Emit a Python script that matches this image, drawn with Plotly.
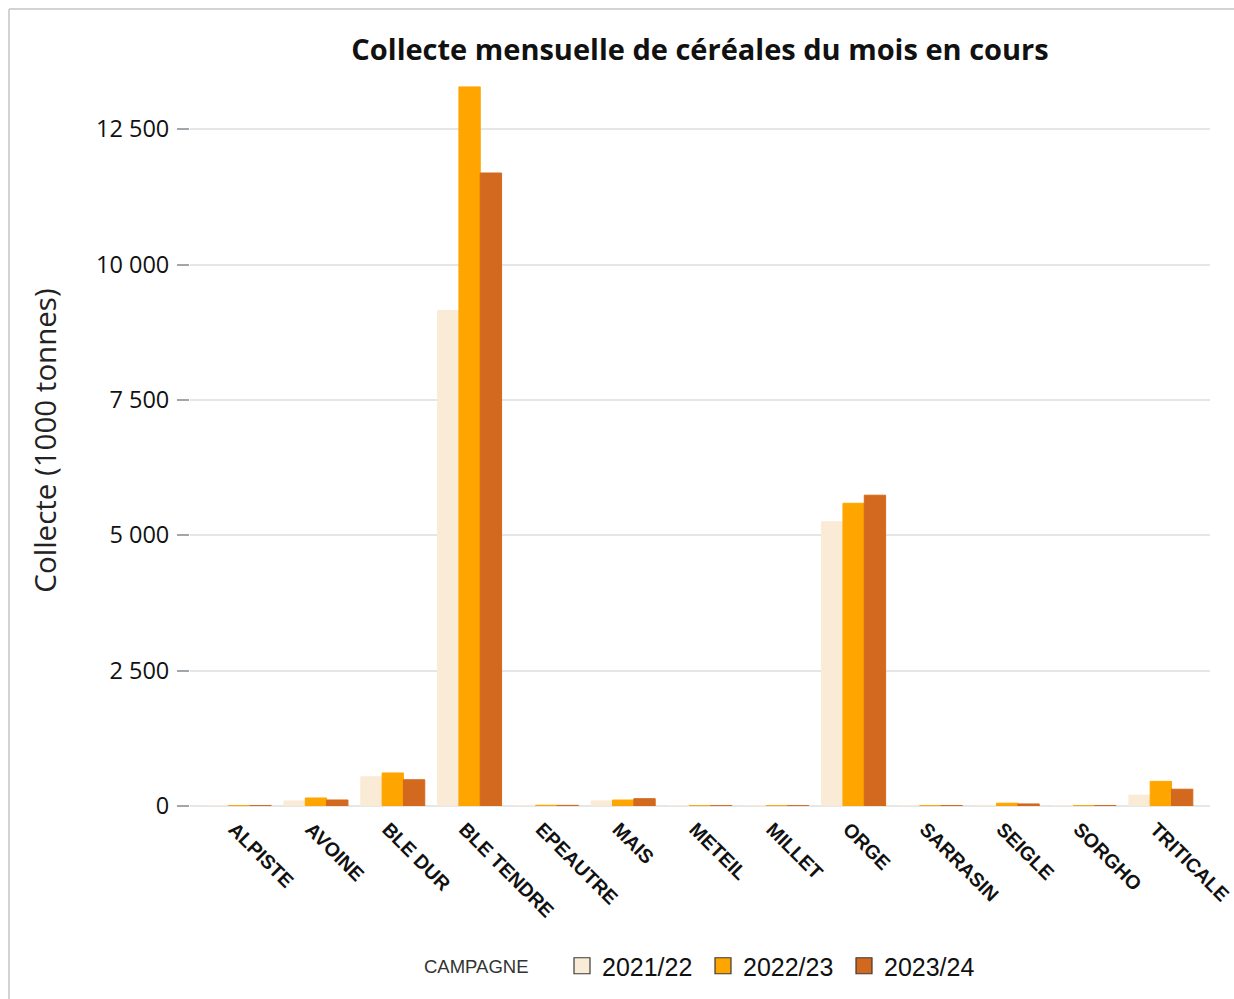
import plotly.graph_objects as go

# Cereal categories (x axis)
cereales = ["ALPISTE", "AVOINE", "BLE DUR", "BLE TENDRE", "EPEAUTRE", "MAIS",
            "METEIL", "MILLET", "ORGE", "SARRASIN", "SEIGLE", "SORGHO", "TRITICALE"]

# Monthly collection, thousand tonnes, per campaign
collecte_2021_22 = [3, 92, 540, 9150, 5, 95, 4, 3, 5250, 4, 12, 3, 200]
collecte_2022_23 = [8, 148, 610, 13280, 14, 110, 6, 6, 5590, 8, 52, 7, 455]
collecte_2023_24 = [8, 111, 485, 11690, 12, 135, 6, 6, 5740, 8, 38, 7, 310]

campagnes = ["2021/22", "2022/23", "2023/24"]
series = [collecte_2021_22, collecte_2022_23, collecte_2023_24]
couleurs = ["#FAEBD7", "#FFA500", "#D2691E"]

y_ticks = [0, 2500, 5000, 7500, 10000, 12500]

W, H = 1234, 999
L, R, T, B = 190, 24, 75, 193
pw, ph = W - L - R, H - T - B

fig = go.Figure()

for nom, vals, col in zip(campagnes, series, couleurs):
    fig.add_trace(go.Bar(
        x=cereales, y=vals, name=nom, showlegend=False,
        marker=dict(color=col, line=dict(width=1, color=col)),
    ))

# Legend entries: square swatches with dark outline
for nom, col in zip(campagnes, couleurs):
    fig.add_trace(go.Scatter(
        x=[None], y=[None], mode="markers", name=nom,
        marker=dict(symbol="square", size=19, color=col,
                    line=dict(width=1.2, color="#3a3a3a")),
    ))


def px_x(p):
    return (p - L) / pw


def px_y(p):
    return (H - B - p) / ph


# Light frame around the chart container (left and top edges)
frame = dict(color="#d3d3d3", width=2)
fig.add_shape(type="line", xref="paper", yref="paper",
              x0=px_x(9), x1=px_x(W + 5), y0=px_y(9), y1=px_y(9), line=frame)
fig.add_shape(type="line", xref="paper", yref="paper",
              x0=px_x(9), x1=px_x(9), y0=px_y(9), y1=px_y(H + 5), line=frame)

# Legend heading
fig.add_annotation(
    text="CAMPAGNE", xref="paper", yref="paper",
    x=px_x(422), y=px_y(966), xanchor="left", yanchor="middle",
    showarrow=False,
    font=dict(family="Liberation Sans", size=18.5, color="#333333"),
)

fig.update_layout(
    width=W, height=H,
    margin=dict(l=L, r=R, t=T, b=B, autoexpand=False),
    paper_bgcolor="white", plot_bgcolor="white",
    separators=", ",
    barmode="group", bargap=0.167, bargroupgap=0,
    title=dict(
        text="Collecte mensuelle de céréales du mois en cours",
        font=dict(family="Open Sans", size=29, color="#111111", weight="bold"),
        x=0.5, xref="paper", xanchor="center",
        y=1 - 50 / H, yanchor="middle",
    ),
    xaxis=dict(
        type="category", range=[-0.64, 12.64],
        tickangle=45, showgrid=False, showline=False, ticks="",
        ticklabelstandoff=7, ticklabelshift=-5,
        tickfont=dict(family="Liberation Sans", size=19.5, color="#111111", weight="bold"),
        automargin=False, fixedrange=True,
    ),
    yaxis=dict(
        range=[0, 13500], tickvals=y_ticks, tickformat=",d",
        showgrid=True, gridcolor="#e6e6e6", gridwidth=2,
        zeroline=True, zerolinecolor="#e6e6e6", zerolinewidth=2,
        ticks="outside", ticklen=12, tickwidth=2, tickcolor="#a0a6aa",
        ticklabelstandoff=3,
        tickfont=dict(family="Open Sans", size=23.5, color="#111111"),
        title=dict(text="Collecte (1000 tonnes)", standoff=30,
                   font=dict(family="Open Sans", size=29.5, color="#222222")),
        showline=False, automargin=False, fixedrange=True,
    ),
    legend=dict(
        orientation="h", x=px_x(562), xanchor="left",
        y=px_y(966), yanchor="middle",
        font=dict(family="Liberation Sans", size=25, color="#111111"),
        itemwidth=30, entrywidth=96, entrywidthmode="pixels",
    ),
)

fig.write_html("out.html")
